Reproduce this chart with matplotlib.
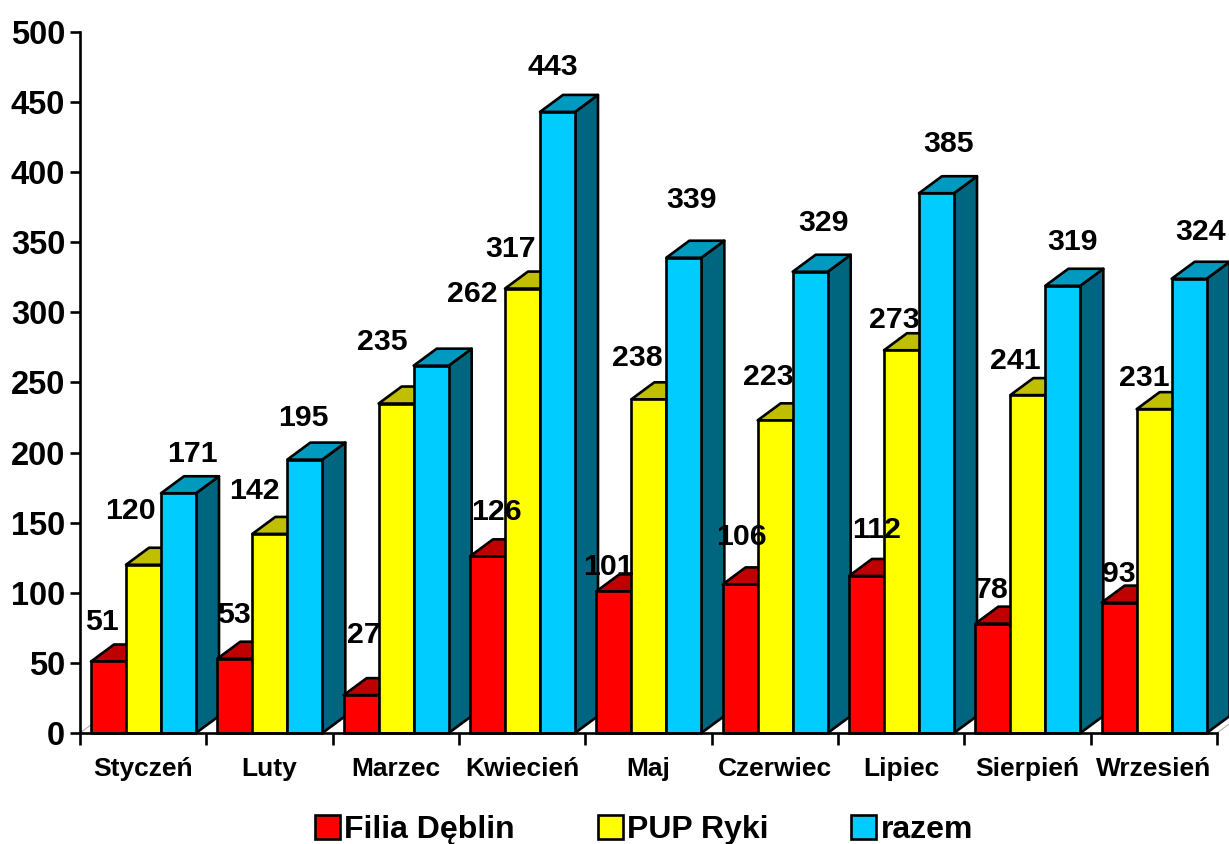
"""Pseudo 3D grouped bars, monthly counts"""
import matplotlib

matplotlib.use("Agg")
import matplotlib.pyplot as plt
from matplotlib.patches import Patch, Polygon

months = ["Styczeń", "Luty", "Marzec", "Kwiecień", "Maj", "Czerwiec", "Lipiec", "Sierpień", "Wrzesień"]
y_ticks = [0, 50, 100, 150, 200, 250, 300, 350, 400, 450, 500]

filia_deblin = [51, 53, 27, 126, 101, 106, 112, 78, 93]
pup_ryki = [120, 142, 235, 317, 238, 223, 273, 241, 231]
razem = [171, 195, 262, 443, 339, 329, 385, 319, 324]

series_names = ["Filia Dęblin", "PUP Ryki", "razem"]
front_colors = ["#FF0000", "#FFFF00", "#00CCFF"]
top_colors = ["#BF0000", "#BFBF00", "#0099BF"]
side_colors = ["#800000", "#808000", "#006680"]

# label offsets from the top centre of each bar, in pixels (right, up)
filia_offsets = [(-6.5, 41.5), (-1, 45.7), (3, 63), (9, 47), (-5, 26.4), (1, 49.4), (10, 48), (-1, 36.6), (0, 31.6)]
pup_offsets = [(-13.5, 55.8), (-15, 45.9), (-14, 64.5), (-12, 41.6), (-12, 44.3), (-7, 45.4), (-7, 32.3), (-13, 37.1), (-10, 34.1)]
razem_offsets = [(13.5, 41.3), (-1, 44.6), (41, 73.7), (-5, 47), (8, 60.7), (13, 51.7), (12, 52.2), (10, 45.8), (11, 48.8)]

W, H = 1229, 844
AX_LEFT, AX_RIGHT, AX_TOP, AX_BOTTOM = 80, 1217, 32, 733
GROUP_PX = (AX_RIGHT - AX_LEFT) / len(months)
PX_PER_UNIT = (AX_BOTTOM - AX_TOP) / 500
BAR_W = 35 / GROUP_PX
MARGIN = 11 / GROUP_PX
DEPTH_X = 23 / GROUP_PX
DEPTH_Y = 17 / PX_PER_UNIT
LW = 1.9
LABEL_DROP = 2.5

plt.rcParams["font.family"] = ["Liberation Sans", "DejaVu Sans"]
plt.rcParams["font.weight"] = "bold"

fig = plt.figure(figsize=(W / 100, H / 100), dpi=100)
ax = fig.add_axes([AX_LEFT / W, 1 - AX_BOTTOM / H, (AX_RIGHT - AX_LEFT) / W, (AX_BOTTOM - AX_TOP) / H])
ax.set_xlim(0, len(months))
ax.set_ylim(0, 500)

# floor edges, only a bit of them shows
for x_floor in (0, len(months)):
    ax.plot([x_floor, x_floor + DEPTH_X], [0, DEPTH_Y], color="#B0B0B0", lw=0.8, clip_on=False, zorder=1)


def draw_bar(x0, value, s):
    x1 = x0 + BAR_W
    side = [(x1, 0), (x1 + DEPTH_X, DEPTH_Y), (x1 + DEPTH_X, value + DEPTH_Y), (x1, value)]
    top = [(x0, value), (x0 + DEPTH_X, value + DEPTH_Y), (x1 + DEPTH_X, value + DEPTH_Y), (x1, value)]
    front = [(x0, 0), (x0, value), (x1, value), (x1, 0)]
    for pts, color in ((side, side_colors[s]), (top, top_colors[s]), (front, front_colors[s])):
        ax.add_patch(
            Polygon(pts, closed=True, facecolor=color, edgecolor="black", linewidth=LW, joinstyle="round", clip_on=False, zorder=2)
        )


all_series = [filia_deblin, pup_ryki, razem]
all_offsets = [filia_offsets, pup_offsets, razem_offsets]

for i in range(len(months)):
    for s, values in enumerate(all_series):
        draw_bar(i + MARGIN + s * BAR_W, values[i], s)

for s, values in enumerate(all_series):
    for i, value in enumerate(values):
        dx, dy = all_offsets[s][i]
        ax.annotate(
            str(value),
            xy=(i + MARGIN + (s + 0.5) * BAR_W, value),
            xytext=(dx * 0.72, (dy - LABEL_DROP) * 0.72),
            textcoords="offset points",
            ha="center",
            va="center",
            fontsize=21.8,
            fontweight="bold",
            annotation_clip=False,
            zorder=5,
        )

for name in ("top", "right"):
    ax.spines[name].set_visible(False)
for name in ("left", "bottom"):
    ax.spines[name].set_linewidth(LW)
    ax.spines[name].set_zorder(4)

ax.set_yticks(y_ticks)
ax.tick_params(axis="y", length=7.2, width=LW, pad=3.5, labelsize=23.5)
ax.set_xticks(range(len(months) + 1))
ax.set_xticklabels([])
ax.tick_params(axis="x", which="major", length=8.8, width=LW)
ax.set_xticks([i + 0.5 for i in range(len(months))], minor=True)
ax.set_xticklabels(months, minor=True, fontsize=19, fontweight="bold")
ax.tick_params(axis="x", which="minor", length=0, pad=17.5)

handles = [Patch(facecolor=c, edgecolor="black", linewidth=LW) for c in front_colors]
fig.legend(
    handles,
    series_names,
    ncol=3,
    loc="center",
    bbox_to_anchor=(644 / W, 1 - 830 / H),
    frameon=False,
    fontsize=23,
    handlelength=0.78,
    handleheight=0.78,
    handletextpad=0.13,
    columnspacing=2.6,
    borderpad=0,
    borderaxespad=0,
)

fig.savefig("out.png", dpi=100)
